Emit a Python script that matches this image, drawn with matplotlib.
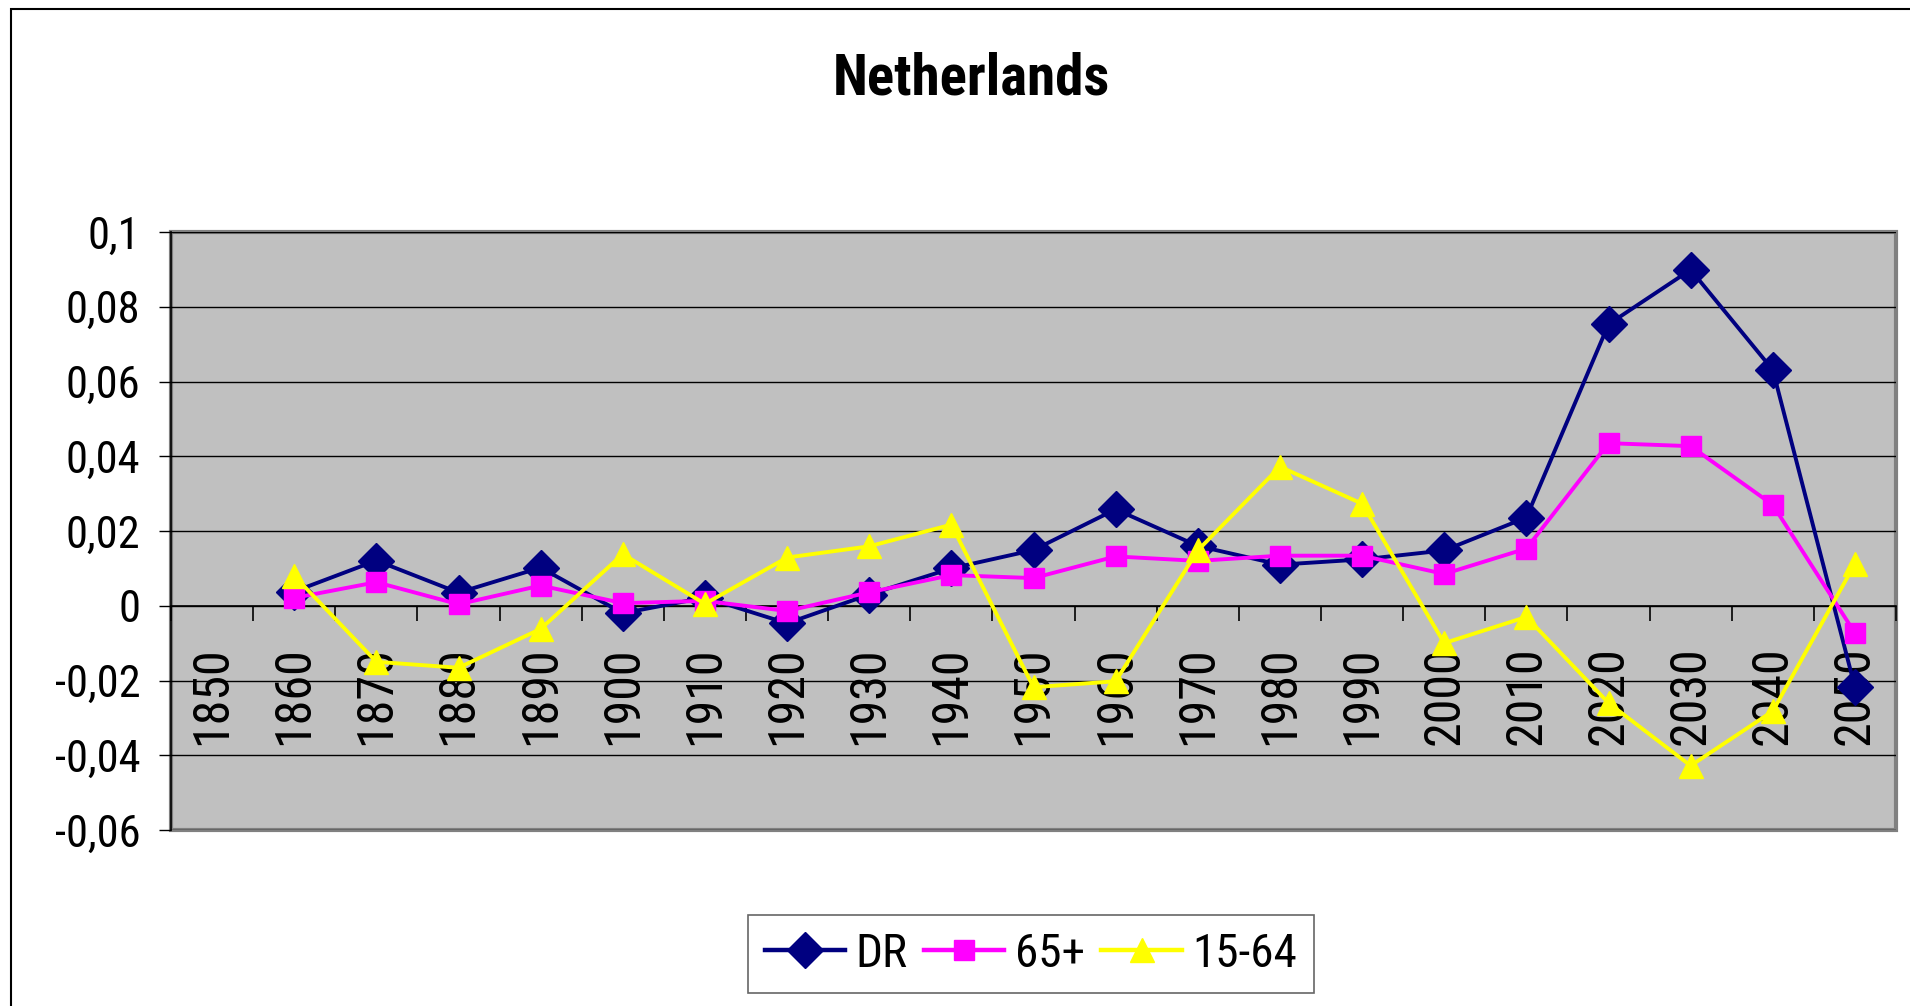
import numpy as np
import matplotlib
matplotlib.use('Agg')
import matplotlib.pyplot as plt
from matplotlib import font_manager
from matplotlib.patches import Rectangle

# the original uses a narrow Arial; take the closest condensed sans that is installed
pref = ['Liberation Sans Narrow', 'Arial Narrow', 'Roboto Condensed', 'Archivo Narrow',
        'PT Sans Narrow', 'Barlow Semi Condensed']


def pick(weight):
    for p in pref:
        for f in font_manager.fontManager.ttflist:
            if f.name == p and f.style == 'normal' and f.weight == weight:
                return p
    return 'Liberation Sans'


fam = pick(400)
fam_bold = pick(700)
plt.rcParams['font.family'] = [fam, 'DejaVu Sans']
plt.rcParams['font.stretch'] = 'condensed'

years = ['1850', '1860', '1870', '1880', '1890', '1900', '1910', '1920', '1930', '1940',
         '1950', '1960', '1970', '1980', '1990', '2000', '2010', '2020', '2030', '2040', '2050']
dr = [np.nan, 0.0038, 0.0121, 0.0035, 0.0102, -0.0020, 0.0022, -0.0047, 0.0030, 0.0100,
      0.0149, 0.0258, 0.0160, 0.0110, 0.0124, 0.0148, 0.0236, 0.0753, 0.0899, 0.0631, -0.0218]
old = [np.nan, 0.0021, 0.0063, 0.0004, 0.0054, 0.0007, 0.0013, -0.0014, 0.0036, 0.0082,
       0.0074, 0.0132, 0.0120, 0.0134, 0.0134, 0.0085, 0.0153, 0.0435, 0.0427, 0.0270, -0.0073]
working = [np.nan, 0.0080, -0.0150, -0.0166, -0.0062, 0.0138, 0.0005, 0.0129, 0.0159, 0.0217,
           -0.0218, -0.0202, 0.0148, 0.0372, 0.0273, -0.0100, -0.0030, -0.0260, -0.0428, -0.0282, 0.0112]
y_ticks = [-0.06, -0.04, -0.02, 0, 0.02, 0.04, 0.06, 0.08, 0.1]
y_labels = ['-0,06', '-0,04', '-0,02', '0', '0,02', '0,04', '0,06', '0,08', '0,1']

fig = plt.figure(figsize=(19.1, 10.06), dpi=100)
ax = fig.add_axes([171/1910, 1-830/1006, (1896-171)/1910, (830-232)/1006])
ax.set_facecolor('#C0C0C0')
ax.patch.set_edgecolor('#808080')
ax.patch.set_linewidth(3)

x = np.arange(len(years))
ax.plot(x, dr, color='#000080', lw=2.8, marker='D', ms=18, label='DR', zorder=3)
ax.plot(x, old, color='#FF00FF', lw=2.8, marker='s', ms=14, label='65+', zorder=4)
ax.plot(x, working, color='#FFFF00', lw=2.8, marker='^', ms=17, label='15-64', zorder=5)

ax.set_xlim(-0.5, len(years) - 0.5)
ax.set_ylim(-0.06, 0.1)
ax.set_yticks(y_ticks)
ax.set_yticklabels(y_labels, fontsize=32)
ax.tick_params(axis='y', direction='out', length=9, width=1, pad=13, color='black')
ax.grid(axis='y', color='black', lw=1)
ax.set_axisbelow(True)

# category axis crosses at zero
ax.spines['bottom'].set_position(('data', 0))
ax.spines['bottom'].set_color('black')
ax.spines['bottom'].set_linewidth(1.2)
ax.spines['left'].set_color('black')
ax.spines['left'].set_linewidth(1.2)
ax.spines['top'].set_visible(False)
ax.spines['right'].set_visible(False)

ax.set_xticks(np.arange(len(years) + 1) - 0.5)
ax.set_xticklabels([])
ax.tick_params(axis='x', which='major', direction='out', length=11, width=1.2, color='black')
ax.set_xticks(x, minor=True)
ax.set_xticklabels(years, minor=True, rotation=90, fontsize=36, va='top')
ax.tick_params(axis='x', which='minor', length=0, pad=29)

fig.text(971/1910, 1-79/1006, 'Netherlands', fontsize=41, fontweight='bold',
         family=[fam_bold, 'DejaVu Sans'], ha='center', va='center')

leg = fig.legend(loc='center', bbox_to_anchor=(1031/1910, 1-954/1006), ncol=3,
                 fontsize=34, frameon=True, fancybox=False, edgecolor='#404040',
                 handlelength=1.7, handletextpad=0.22, columnspacing=0.35,
                 borderpad=0.35, borderaxespad=0)
leg.get_frame().set_linewidth(1.2)
for h in leg.get_lines():
    h.set_linewidth(3.2)

# outer chart frame
fig.patches.append(Rectangle((11/1910, -0.2), 2, (1006-9)/1006 + 0.2,
                             transform=fig.transFigure, fill=False,
                             edgecolor='black', lw=1.5))

fig.savefig('out.png', dpi=100)
